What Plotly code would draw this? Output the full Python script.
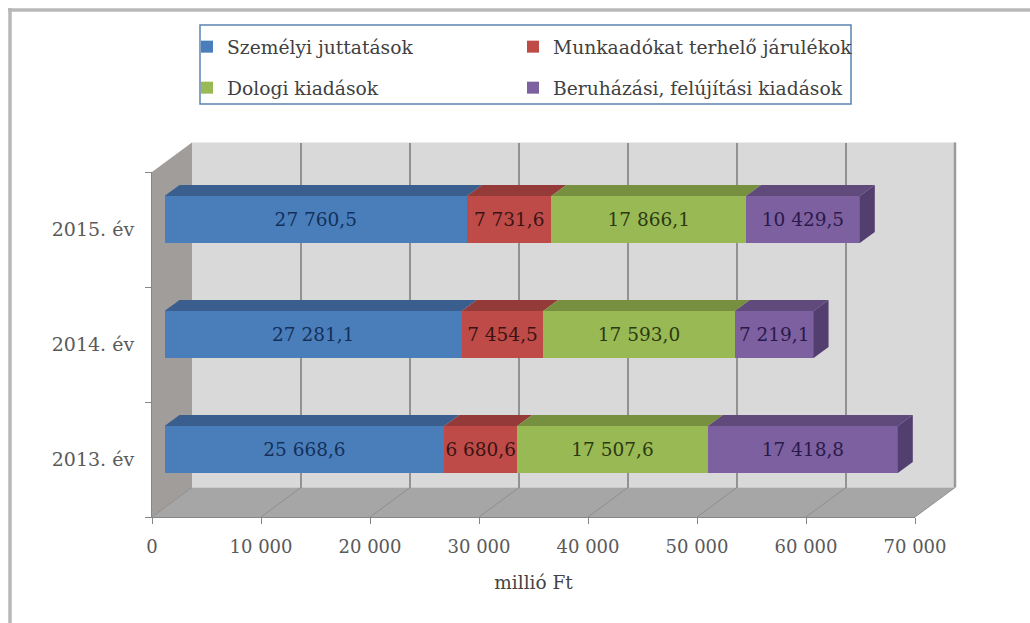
import plotly.graph_objects as go

W, H = 1030, 623

# ---- data ----
categories = ["2013. év", "2014. év", "2015. év"]
szemelyi = [25668.6, 27281.1, 27760.5]
munkaadoi = [6680.6, 7454.5, 7731.6]
dologi = [17507.6, 17593.0, 17866.1]
beruhazasi = [17418.8, 7219.1, 10429.5]
series_names = ["Személyi juttatások", "Munkaadókat terhelő járulékok",
                "Dologi kiadások", "Beruházási, felújítási kiadások"]
x_ticks = [0, 10000, 20000, 30000, 40000, 50000, 60000, 70000]
x_tick_labels = ["0", "10 000", "20 000", "30 000", "40 000", "50 000", "60 000", "70 000"]

# ---- styles ----
front_colors = ["#4a7ebb", "#be4b48", "#98b954", "#7d60a0"]
top_colors = ["#3a5f8f", "#943a38", "#769040", "#5f4a7b"]
side_color = "#533e70"
label_colors = ["#14305a", "#3a1414", "#2c3a12", "#2a1a4a"]
FONT = "DejaVu Serif"

# pixel geometry of the 3D frame
FX0, FX1, FY0, FY1 = 152, 915, 172, 517      # front axes
DX, DY = 40, 29.5                            # wall depth
BAR_DX, BAR_DY = 12.5, 10                    # bar plane shift from front axes
TOP_DX, TOP_DY = 15, 11                      # bar depth
BAR_FRAC = 47 / 115

def px(x):
    return x / W

def py(y):
    return 1 - y / H

def poly(pts):
    return "M " + " L ".join(f"{px(a):.5f} {py(b):.5f}" for a, b in pts) + " Z"

def fmt(v):
    return f"{v:,.1f}".replace(",", " ").replace(".", ",")

series = [szemelyi, munkaadoi, dologi, beruhazasi]
ypos = list(range(len(categories)))
xmax = x_ticks[-1]
unit_x = xmax / (FX1 - FX0)
unit_y = 1 / ((FY1 - FY0) / len(categories))

fig = go.Figure()

# helper traces that activate the back-wall grid and the front axes
fig.add_trace(go.Scatter(x=[0], y=[0], xaxis="x", yaxis="y", mode="none",
                         showlegend=False, hoverinfo="skip"))
fig.add_trace(go.Scatter(x=[0] * 3, y=categories, xaxis="x2", yaxis="y2", mode="none",
                         showlegend=False, hoverinfo="skip"))

# bars
for i, (name, vals) in enumerate(zip(series_names, series)):
    fig.add_trace(go.Bar(
        y=ypos, x=vals, name=name, orientation="h", xaxis="x3", yaxis="y3",
        width=BAR_FRAC, marker=dict(color=front_colors[i], line=dict(width=0)),
        text=[fmt(v) for v in vals], textposition="inside", insidetextanchor="middle",
        textangle=0, constraintext="none", cliponaxis=False,
        textfont=dict(family=FONT, size=18.5, color=label_colors[i]),
        legend="legend" if i == 0 else f"legend{i + 1}",
    ))

# bar depth: tops and end caps follow the values
for c, _ in enumerate(categories):
    start = 0
    hi = c + BAR_FRAC / 2
    lo = c - BAR_FRAC / 2
    dx = TOP_DX * unit_x
    dy = TOP_DY * unit_y
    for i, vals in enumerate(series):
        end = start + vals[c]
        fig.add_trace(go.Scatter(
            x=[start, end, end + dx, start + dx, start], y=[hi, hi, hi + dy, hi + dy, hi],
            xaxis="x3", yaxis="y3", mode="lines", fill="toself", fillcolor=top_colors[i],
            line=dict(width=0), showlegend=False, hoverinfo="skip", cliponaxis=False))
        start = end
    fig.add_trace(go.Scatter(
        x=[start, start + dx, start + dx, start, start], y=[lo, lo + dy, hi + dy, hi, lo],
        xaxis="x3", yaxis="y3", mode="lines", fill="toself", fillcolor=side_color,
        line=dict(width=0), showlegend=False, hoverinfo="skip", cliponaxis=False))

shapes = [
    # outer frame: top and left edges only
    dict(type="line", xref="paper", yref="paper", x0=px(8), x1=1, y0=py(10), y1=py(10),
         line=dict(color="#b8b8b8", width=3.5), layer="below"),
    dict(type="line", xref="paper", yref="paper", x0=px(10), x1=px(10), y0=py(8), y1=0,
         line=dict(color="#b8b8b8", width=3.5), layer="below"),
    # back wall
    dict(type="path", xref="paper", yref="paper", layer="below", line=dict(width=0),
         fillcolor="#d9d9d9",
         path=poly([(FX0 + DX, FY0 - DY), (FX1 + DX, FY0 - DY), (FX1 + DX, FY1 - DY), (FX0 + DX, FY1 - DY)])),
    # back wall right edge
    dict(type="line", xref="paper", yref="paper", layer="below",
         x0=px(FX1 + DX), x1=px(FX1 + DX), y0=py(FY0 - DY), y1=py(FY1 - DY),
         line=dict(color="#9a9a9a", width=2.5)),
    # left wall
    dict(type="path", xref="paper", yref="paper", layer="below", line=dict(width=0),
         fillcolor="#a09d9a",
         path=poly([(FX0, FY0), (FX0 + DX, FY0 - DY), (FX0 + DX, FY1 - DY), (FX0, FY1)])),
    # floor
    dict(type="path", xref="paper", yref="paper", layer="below", line=dict(width=0),
         fillcolor="#a6a6a6",
         path=poly([(FX0, FY1), (FX0 + DX, FY1 - DY), (FX1 + DX, FY1 - DY), (FX1, FY1)])),
    # legend box
    dict(type="rect", xref="paper", yref="paper", x0=px(200), x1=px(851), y0=py(25), y1=py(104),
         line=dict(color="#5b82b0", width=1.5), fillcolor="white", layer="below"),
]
# floor grid lines
for t in x_ticks:
    xf = FX0 + t / unit_x
    shapes.append(dict(type="line", xref="paper", yref="paper", layer="below",
                       x0=px(xf), y0=py(FY1), x1=px(xf + DX), y1=py(FY1 - DY),
                       line=dict(color="#8e8e8e", width=1)))

layout_axes = dict(
    # back wall: grid only
    xaxis=dict(domain=[px(FX0 + DX), px(FX1 + DX)], range=[0, xmax], anchor="y",
               tickvals=x_ticks, showticklabels=False, ticks="", showgrid=True,
               gridcolor="#929292", gridwidth=1.5, zeroline=False, showline=False),
    yaxis=dict(domain=[py(FY1 - DY), py(FY0 - DY)], range=[0, 1], anchor="x",
               showticklabels=False, ticks="", showgrid=False, zeroline=False, showline=False),
    # front axes: ticks and labels
    xaxis2=dict(domain=[px(FX0), px(FX1)], range=[0, xmax], anchor="y2",
                tickvals=x_ticks, ticktext=x_tick_labels, ticks="outside", ticklen=6,
                tickcolor="#868686", showline=True, linecolor="#868686", showgrid=False,
                zeroline=False, ticklabelstandoff=7,
                tickfont=dict(family=FONT, size=18, color="#5a5a5a"),
                title=dict(text="millió Ft", font=dict(family=FONT, size=18.5, color="#444444"), standoff=20)),
    yaxis2=dict(domain=[py(FY1), py(FY0)], anchor="x2", type="category", range=[-0.5, 2.5],
                categoryorder="array", categoryarray=categories, tickson="boundaries",
                ticks="outside", ticklen=6, tickcolor="#868686", showline=True,
                linecolor="#868686", showgrid=False, zeroline=False, ticklabelstandoff=13,
                tickfont=dict(family=FONT, size=19, color="#5a5a5a")),
    # bar plane
    xaxis3=dict(domain=[px(FX0 + BAR_DX), px(FX1 + BAR_DX)], range=[0, xmax], anchor="y3",
                visible=False),
    yaxis3=dict(domain=[py(FY1 - BAR_DY), py(FY0 - BAR_DY)], range=[-0.5, 2.5], anchor="x3",
                visible=False),
)

def legend_at(x, y):
    return dict(x=px(x), y=py(y), xanchor="left", yanchor="middle", bgcolor="rgba(0,0,0,0)",
                borderwidth=0, font=dict(family=FONT, size=18.7, color="#404040"))

fig.update_layout(
    width=W, height=H, margin=dict(l=0, r=0, t=0, b=0, autoexpand=False),
    paper_bgcolor="white", plot_bgcolor="rgba(0,0,0,0)", barmode="stack",
    shapes=shapes,
    legend=legend_at(187, 47), legend2=legend_at(513, 47),
    legend3=legend_at(187, 88), legend4=legend_at(513, 88),
    **layout_axes,
)

fig.write_html("out.html", config=dict(displayModeBar=False),
               post_script="document.body.style.margin='0';document.body.style.overflow='hidden';")
